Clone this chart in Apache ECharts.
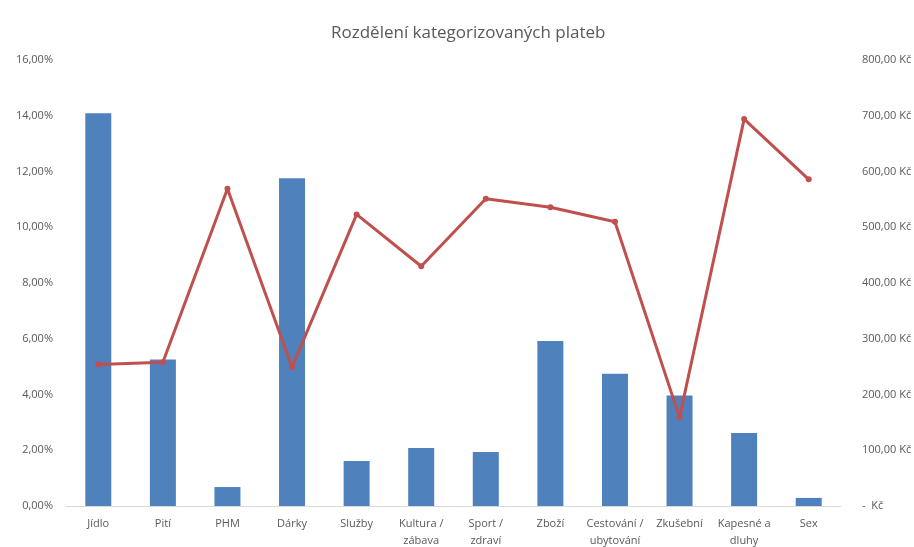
<!DOCTYPE html>
<html>
<head>
<meta charset="utf-8">
<script src="https://cdn.jsdelivr.net/npm/echarts@6/dist/echarts.min.js"></script>
<style>html,body{margin:0;padding:0;background:#fff}#c{width:914px;height:547px}</style>
</head>
<body>
<div id="c"></div>
<script>
var categories = ['Jídlo','Pití','PHM','Dárky','Služby','Kultura /\nzábava','Sport /\nzdraví','Zboží','Cestování /\nubytování','Zkušební','Kapesné a\ndluhy','Sex'];
var shareValues = [14.09, 5.26, 0.68, 11.76, 1.61, 2.08, 1.94, 5.92, 4.74, 3.96, 2.62, 0.29];
var amountValues = [254, 258, 569, 249, 523, 430, 551, 536, 510, 159, 694, 586];
var titleText = 'Rozdělení kategorizovaných plateb';

var font = '"Open Sans", "Liberation Sans", sans-serif';
var chart = echarts.init(document.getElementById('c'));
chart.setOption({
  animation: false,
  title: {text: titleText, left: 326, top: 20,
    textStyle: {fontFamily: font, fontSize: 17, fontWeight: 'normal', color: '#595959'}},
  grid: {left: 66, right: 73, top: 60, bottom: 41, containLabel: false, outerBoundsMode: 'none'},
  xAxis: {type: 'category', data: categories,
    axisLine: {lineStyle: {color: '#d9d9d9'}}, axisTick: {show: false},
    axisLabel: {interval: 0, color: '#595959', fontFamily: font, fontSize: 11, margin: 9, lineHeight: 17}},
  yAxis: [
    {type: 'value', min: 0, max: 16, interval: 2, splitLine: {show: false},
      axisLine: {show: false}, axisTick: {show: false},
      axisLabel: {color: '#595959', fontFamily: font, fontSize: 11, margin: 13,
        formatter: function(v){return v.toFixed(2).replace('.', ',') + '%';}}},
    {type: 'value', min: 0, max: 800, interval: 100, splitLine: {show: false},
      axisLine: {show: false}, axisTick: {show: false},
      axisLabel: {color: '#595959', fontFamily: font, fontSize: 11, margin: 21,
        formatter: function(v){return v === 0 ? '-  Kč' : v.toFixed(2).replace('.', ',') + ' Kč';}}}
  ],
  series: [
    {type: 'bar', data: shareValues, yAxisIndex: 0, barWidth: 26,
      itemStyle: {color: '#4F81BD'}},
    {type: 'line', data: amountValues, yAxisIndex: 1, symbol: 'circle', symbolSize: 6,
      lineStyle: {color: '#C0504D', width: 3}, itemStyle: {color: '#C0504D'}}
  ]
});
</script>
</body>
</html>
